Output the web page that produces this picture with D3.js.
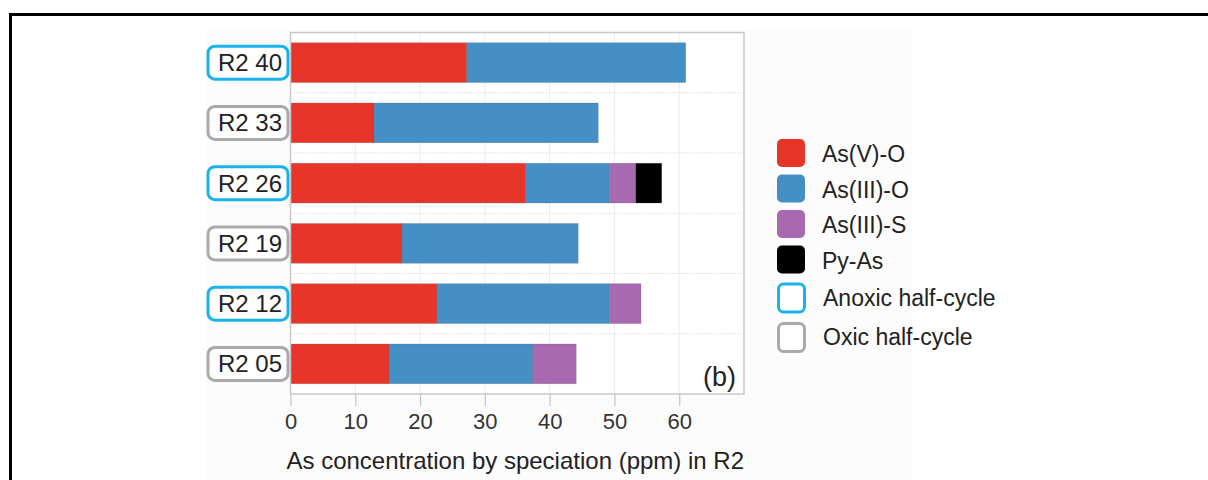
<!DOCTYPE html>
<html>
<head>
<meta charset="utf-8">
<script src="https://cdn.jsdelivr.net/npm/d3@7"></script>
<style>
  html, body { margin: 0; padding: 0; background: #fff; }
  svg { display: block; font-family: "Liberation Sans", Arial, Helvetica, sans-serif; }
</style>
</head>
<body>
<svg id="chart" width="1208" height="480"></svg>
<script>
// Samples (top to bottom) and the redox half-cycle each was taken in
const samples = ["R2 40", "R2 33", "R2 26", "R2 19", "R2 12", "R2 05"];
const halfCycle = ["anoxic", "oxic", "anoxic", "oxic", "anoxic", "oxic"];

// As concentration by speciation (ppm)
const asVO   = [27.2, 12.9, 36.3, 17.2, 22.6, 15.2];
const asIIIO = [33.8, 34.6, 12.9, 27.2, 26.6, 22.2];
const asIIIS = [0.0,  0.0,  4.1,  0.0,  4.9,  6.7];
const pyAs   = [0.0,  0.0,  4.0,  0.0,  0.0,  0.0];

const species = ["As(V)-O", "As(III)-O", "As(III)-S", "Py-As"];
const speciesColors = ["#e8352a", "#4490c6", "#a869b1", "#000000"];
const cycleNames = ["Anoxic half-cycle", "Oxic half-cycle"];
const cycleColors = { anoxic: "#1ab2ec", oxic: "#aaaaaa" };
const xTicks = [0, 10, 20, 30, 40, 50, 60];

const rows = samples.map((s, i) => ({
  sample: s, cycle: halfCycle[i],
  "As(V)-O": asVO[i], "As(III)-O": asIIIO[i], "As(III)-S": asIIIS[i], "Py-As": pyAs[i]
}));

const svg = d3.select("#chart");

// panel frame
svg.append("path")
  .attr("d", "M10.5,480 V14.5 H1208")
  .attr("fill", "none").attr("stroke", "#000").attr("stroke-width", 3);

// figure backdrop
svg.append("rect").attr("x", 206).attr("y", 30).attr("width", 706).attr("height", 450)
  .attr("fill", "#fcfcfc");

const plot = { left: 290.5, right: 744, top: 32.5, bottom: 394 };

const x = d3.scaleLinear().domain([0, 70]).range([plot.left, plot.right]);
const y = d3.scaleBand().domain(samples).range([plot.top, plot.bottom])
  .paddingInner(0.34).paddingOuter(0.17);

// plot background
svg.append("rect")
  .attr("x", plot.left).attr("y", plot.top)
  .attr("width", plot.right - plot.left).attr("height", plot.bottom - plot.top)
  .attr("fill", "#fff");

// vertical grid
svg.append("g").selectAll("line").data(xTicks.slice(1)).join("line")
  .attr("x1", d => x(d)).attr("x2", d => x(d))
  .attr("y1", plot.top).attr("y2", plot.bottom)
  .attr("stroke", "#ececec").attr("stroke-width", 1);

// horizontal dotted grid between bars
const step = y.step();
svg.append("g").selectAll("line").data(samples.slice(1)).join("line")
  .attr("x1", plot.left).attr("x2", plot.right)
  .attr("y1", d => y(d) - step * y.paddingInner() / 2)
  .attr("y2", d => y(d) - step * y.paddingInner() / 2)
  .attr("stroke", "#dcdcdc").attr("stroke-width", 1.2)
  .attr("stroke-dasharray", "1.5,1.5");

// stacked bars
const stack = d3.stack().keys(species)(rows);
svg.append("g").selectAll("g").data(stack).join("g")
  .attr("fill", (d, i) => speciesColors[i])
  .selectAll("rect").data(d => d.filter(p => p[1] - p[0] > 0)).join("rect")
  .attr("x", d => x(d[0]))
  .attr("width", d => x(d[1]) - x(d[0]))
  .attr("y", d => y(d.data.sample))
  .attr("height", y.bandwidth())
  .attr("stroke", "rgba(90,90,90,0.35)").attr("stroke-width", 0.6);

// plot border
svg.append("rect")
  .attr("x", plot.left).attr("y", plot.top)
  .attr("width", plot.right - plot.left).attr("height", plot.bottom - plot.top)
  .attr("fill", "none").attr("stroke", "#c8c8c8").attr("stroke-width", 1.5);

// x axis
const xAxis = d3.axisBottom(x).tickValues(xTicks).tickSize(12).tickPadding(7);
const gx = svg.append("g").attr("transform", `translate(0,${plot.bottom})`).call(xAxis);
gx.select(".domain").remove();
gx.selectAll(".tick line").attr("stroke", "#c4c4c4").attr("stroke-width", 1.2);
gx.selectAll(".tick text").attr("fill", "#333").attr("font-size", 22)
  .attr("font-family", "Liberation Sans, Arial, sans-serif");

svg.append("text")
  .attr("x", (plot.left + plot.right) / 2 - 2).attr("y", 469)
  .attr("text-anchor", "middle").attr("font-size", 24).attr("fill", "#222")
  .text("As concentration by speciation (ppm) in R2");

// sample labels in rounded boxes
const lab = svg.append("g").selectAll("g").data(rows).join("g")
  .attr("transform", d => `translate(0,${y(d.sample) + y.bandwidth() / 2})`);
lab.append("rect")
  .attr("x", 208).attr("y", -16.5).attr("width", 80).attr("height", 33)
  .attr("rx", 7).attr("fill", "#fff")
  .attr("stroke", d => cycleColors[d.cycle]).attr("stroke-width", 3);
lab.append("text")
  .attr("x", 250).attr("y", 8.5).attr("text-anchor", "middle")
  .attr("font-size", 24).attr("fill", "#222")
  .text(d => d.sample);

// panel tag
svg.append("text").attr("x", 736).attr("y", 386).attr("text-anchor", "end")
  .attr("font-size", 27).attr("fill", "#222").text("(b)");

// legend
const leg = svg.append("g").attr("transform", "translate(777,139)");
const legRows = species.map((s, i) => ({ name: s, fill: speciesColors[i], stroke: "none" }))
  .concat(cycleNames.map((c, i) => ({ name: c, fill: "#fff", stroke: i === 0 ? cycleColors.anoxic : cycleColors.oxic })));
const legStep = [0, 35.5, 71, 106.5, 143.5, 183];
const li = leg.selectAll("g").data(legRows).join("g")
  .attr("transform", (d, i) => `translate(0,${legStep[i]})`);
li.append("rect")
  .attr("x", d => d.stroke === "none" ? 0 : 1.5).attr("y", d => d.stroke === "none" ? 0 : 1.5)
  .attr("width", d => d.stroke === "none" ? 28 : 26).attr("height", d => d.stroke === "none" ? 28 : 28)
  .attr("rx", 5).attr("fill", d => d.fill)
  .attr("stroke", d => d.stroke).attr("stroke-width", 3);
li.append("text").attr("x", d => d.stroke === "none" ? 45 : 46).attr("y", 23)
  .attr("font-size", 23).attr("fill", "#222").text(d => d.name);
</script>
</body>
</html>
